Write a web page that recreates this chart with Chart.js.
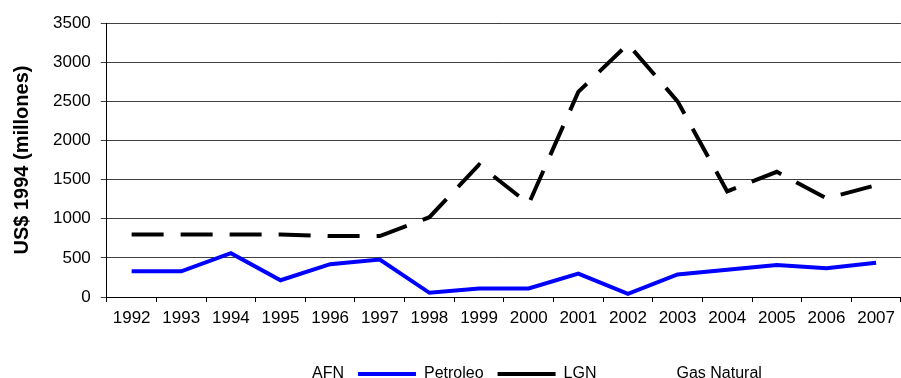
<!DOCTYPE html>
<html>
<head>
<meta charset="utf-8">
<script src="https://cdn.jsdelivr.net/npm/chart.js@4"></script>
<style>
    html, body { margin: 0; padding: 0; background: #fff; overflow: hidden; }
    #wrap { width: 901px; height: 378px; }
    canvas { display: block; }
</style>
</head>
<body>
<div id="wrap"><canvas id="chart" width="901" height="378"></canvas></div>
<script>
// Data
const years = ['1992', '1993', '1994', '1995', '1996', '1997', '1998', '1999',
               '2000', '2001', '2002', '2003', '2004', '2005', '2006', '2007'];
const petroleo = [330, 330, 560, 215, 420, 480, 55, 110, 110, 300, 40, 290, 350, 410, 370, 440];
const lgn = [800, 800, 800, 800, 780, 780, 1020, 1690, 1190, 2620, 3230, 2500, 1350, 1600, 1260, 1430];
// AFN and Gas Natural only appear in the legend, no visible line
const afn = [];
const gasNatural = [];
const yTicks = [0, 500, 1000, 1500, 2000, 2500, 3000, 3500];

const fontFamily = "'Liberation Sans', Arial, sans-serif";

// centre the legend on the plot area and drop it to the bottom edge
const legendPlace = {
    id: 'legendPlace',
    afterLayout(chart) {
        const lg = chart.legend;
        lg.left = chart.chartArea.left;
        lg.top = 374 - 8 - lg.options.labels.padding;
        lg.bottom = chart.height;
    }
};

new Chart(document.getElementById('chart').getContext('2d'), {
    type: 'line',
    data: {
        labels: years,
        datasets: [
            { label: 'AFN', data: afn, borderColor: 'rgba(0,0,0,0)', borderWidth: 4 },
            { label: 'Petroleo', data: petroleo, borderColor: '#0000ff', borderWidth: 4 },
            { label: 'LGN', data: lgn, borderColor: '#000000', borderWidth: 4, borderDash: [32, 17] },
            { label: 'Gas Natural', data: gasNatural, borderColor: 'rgba(0,0,0,0)', borderWidth: 4 }
        ]
    },
    options: {
        responsive: false,
        animation: false,
        devicePixelRatio: 1,
        layout: { padding: { left: 6, top: 23, right: 0, bottom: 3.5 } },
        elements: {
            line: { tension: 0, fill: false, borderCapStyle: 'butt', borderJoinStyle: 'miter' },
            point: { radius: 0, hoverRadius: 0 }
        },
        plugins: {
            tooltip: { enabled: false },
            legend: {
                position: 'bottom',
                labels: {
                    usePointStyle: true,
                    pointStyle: 'line',
                    pointStyleWidth: 58,
                    padding: 14,
                    color: '#000',
                    font: { family: fontFamily, size: 16 }
                }
            }
        },
        scales: {
            x: {
                offset: true,
                grid: {
                    offset: true,
                    drawOnChartArea: false,
                    drawTicks: true,
                    tickLength: 5,
                    color: '#000'
                },
                border: { display: true, color: '#000', width: 1 },
                ticks: {
                    color: '#000',
                    padding: 6,
                    maxRotation: 0,
                    autoSkip: false,
                    font: { family: fontFamily, size: 17 }
                }
            },
            y: {
                min: 0,
                max: 3500,
                afterBuildTicks: axis => { axis.ticks = yTicks.map(v => ({ value: v })); },
                grid: { color: '#404040', tickLength: 6, lineWidth: 1 },
                border: { display: true, color: '#000', width: 1 },
                ticks: {
                    color: '#000',
                    padding: 10,
                    callback: value => String(value),
                    font: { family: fontFamily, size: 17 }
                },
                title: {
                    display: true,
                    text: 'US$ 1994 (millones)',
                    color: '#000',
                    padding: { top: 4, bottom: 9 },
                    font: { family: fontFamily, size: 20, weight: 'bold' }
                }
            }
        }
    },
    plugins: [legendPlace]
});
</script>
</body>
</html>
